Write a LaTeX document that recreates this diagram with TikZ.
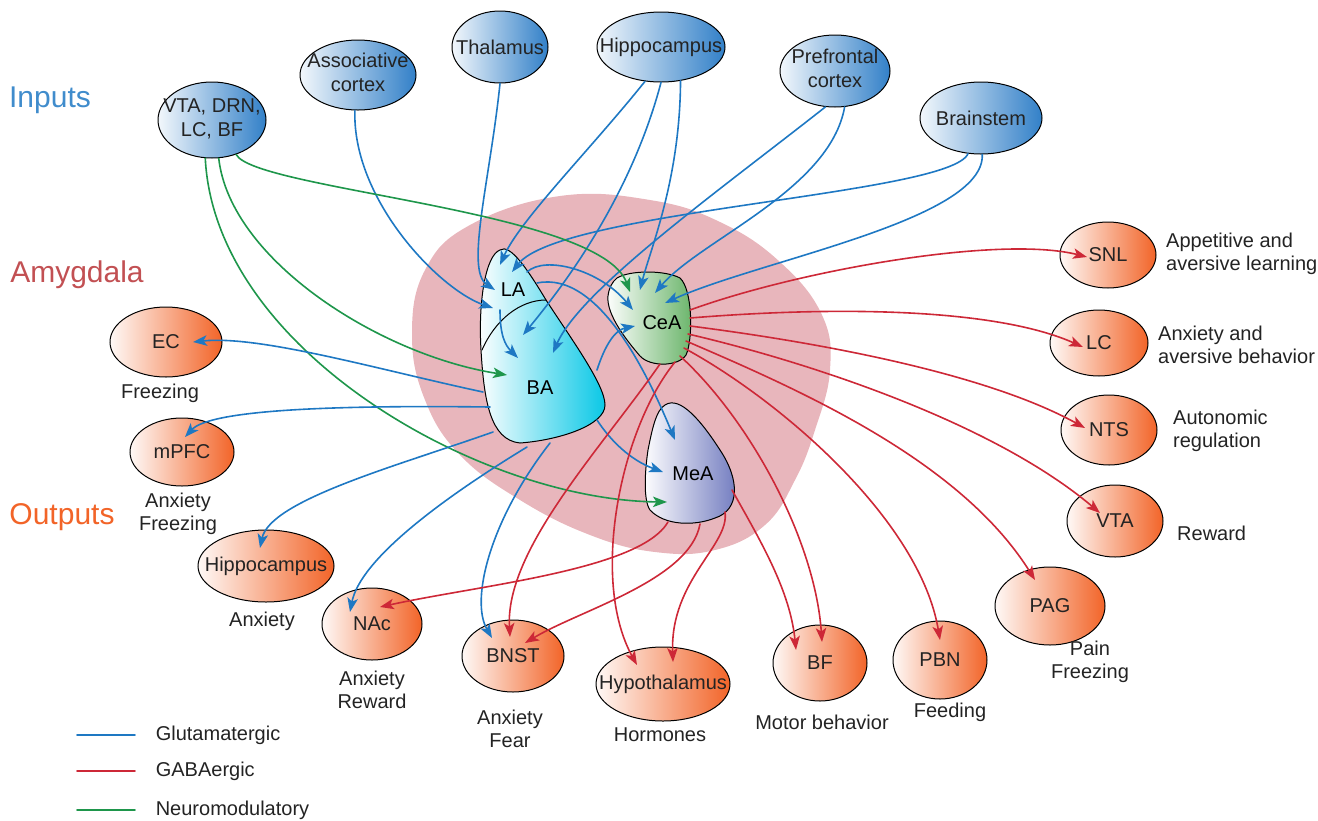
\documentclass[tikz,border=0pt]{standalone}
\usepackage{fontspec}
\setmainfont{Liberation Sans}
\usepackage{tikz}
\usetikzlibrary{arrows.meta, calc, shapes.geometric}

\definecolor{GluBlue}{RGB}{30,120,195}
\definecolor{GabaRed}{RGB}{205,40,55}
\definecolor{NeuroGreen}{RGB}{30,150,75}
\definecolor{InBlue}{RGB}{50,128,200}
\definecolor{OutOrange}{RGB}{242,100,40}
\definecolor{AmyPink}{RGB}{232,182,188}
\definecolor{BaCyan}{RGB}{10,200,230}
\definecolor{CeaGreen}{RGB}{105,180,105}
\definecolor{MeaBlue}{RGB}{110,120,190}
\definecolor{TxtGray}{RGB}{35,35,35}

\newcommand{\zw}[1]{\makebox[0pt]{#1}}
\newcommand{\two}[2]{\makebox[0pt]{\begin{tabular}{@{}c@{}}#1\\#2\end{tabular}}}

\tikzset{
  inbox/.style={ellipse, draw=black, line width=1pt, inner sep=0pt, left color=InBlue!6, right color=InBlue, text=TxtGray},
  outbox/.style={ellipse, draw=black, line width=1pt, inner sep=0pt, left color=OutOrange!4, right color=OutOrange, text=TxtGray},
  note/.style={align=center, text=TxtGray, inner sep=0pt},
  tip/.style={-{Stealth[length=14pt, width=10.5pt, inset=3.5pt]}},
  glu/.style={GluBlue, line width=1.6pt, tip},
  gaba/.style={GabaRed, line width=1.6pt, tip},
  neuro/.style={NeuroGreen, line width=1.6pt, tip},
  region/.style={draw=black, line width=1pt}
}

\begin{document}
\begin{tikzpicture}[x=1pt, y=-1pt, line cap=round, font=\fontsize{20}{23.5}\selectfont]

  \useasboundingbox (0,0) rectangle (1318,820);

  % amygdala area
  \fill[AmyPink] plot[smooth cycle, tension=0.7] coordinates {(560,196) (650,200) (720,222) (780,262) (822,315) (830,370) (815,430) (795,480) (765,525) (715,550) (655,552) (590,535) (520,500) (460,455) (425,400) (412,335) (425,270) (470,225)};

  % BA and LA
  \filldraw[region, left color=white, right color=BaCyan] (500,250) .. controls (486,255) and (478,300) .. (481,350) .. controls (484,400) and (490,440) .. (520,443) .. controls (560,440) and (605,425) .. (605,405) .. controls (605,385) and (572,340) .. (546,300) .. controls (528,270) and (510,243) .. (500,250) -- cycle;
  \draw[region] (482,350) .. controls (495,320) and (520,300) .. (546,300);
  % CeA
  \filldraw[region, left color=white, right color=CeaGreen] (617,278) .. controls (630,270) and (665,270) .. (680,278) .. controls (693,290) and (693,340) .. (686,355) .. controls (678,367) and (650,367) .. (640,356) .. controls (628,342) and (606,315) .. (608,296) .. controls (609,288) and (612,282) .. (617,278) -- cycle;
  % MeA
  \filldraw[region, left color=white, right color=MeaBlue] (665,405) .. controls (680,395) and (702,422) .. (720,450) .. controls (740,480) and (740,510) .. (715,518) .. controls (695,526) and (665,526) .. (650,510) .. controls (643,500) and (645,470) .. (648,450) .. controls (652,430) and (656,410) .. (665,405) -- cycle;

  \node (la) at (513,290) {LA};
  \node (ba) at (540,388) {BA};
  \node (cea) at (662,323) {CeA};
  \node (mea) at (693,474) {MeA};

  % entry points inside the amygdala nuclei
  \coordinate (la1) at (495,290);
  \coordinate (la2) at (493,308);
  \coordinate (la3) at (500,265);
  \coordinate (la4) at (512,272);
  \coordinate (ba1) at (523,335);
  \coordinate (ba2) at (553,353);
  \coordinate (ba3) at (518,358);
  \coordinate (ba4) at (507,375);
  \coordinate (ce1) at (630,292);
  \coordinate (ce2) at (640,290);
  \coordinate (ce3) at (655,293);
  \coordinate (ce4) at (665,303);
  \coordinate (ce5) at (633,310);
  \coordinate (ce6) at (635,326);
  \coordinate (me1) at (675,440);
  \coordinate (me2) at (663,472);
  \coordinate (me3) at (667,502);

  % headings
  \node[text=GluBlue!85!white, font=\fontsize{30}{34}\selectfont] (hin) at (50,100) {Inputs};
  \node[text=red!45!AmyPink!80!black, font=\fontsize{30}{34}\selectfont] (hamy) at (77,275) {Amygdala};
  \node[text=OutOrange, font=\fontsize{30}{34}\selectfont] (hout) at (62,517) {Outputs};

  % inputs
  \node[inbox, minimum width=108pt, minimum height=76pt] (vtadrn) at (212,120) {\two{VTA, DRN,}{LC, BF}};
  \node[inbox, minimum width=116pt, minimum height=70pt] (asso) at (358,75) {\two{Associative}{cortex}};
  \node[inbox, minimum width=96pt, minimum height=72pt] (thal) at (500,47) {\zw{Thalamus}};
  \node[inbox, minimum width=128pt, minimum height=70pt] (hippin) at (661,47) {\zw{Hippocampus}};
  \node[inbox, minimum width=110pt, minimum height=72pt] (pfc) at (835,71) {\two{Prefrontal}{cortex}};
  \node[inbox, minimum width=122pt, minimum height=72pt] (brain) at (981,118) {\zw{Brainstem}};

  % outputs
  \node[outbox, minimum width=112pt, minimum height=70pt] (ec) at (166,342) {\zw{EC}};
  \node[outbox, minimum width=104pt, minimum height=68pt] (mpfc) at (182,452) {\zw{mPFC}};
  \node[outbox, minimum width=136pt, minimum height=72pt] (hippout) at (266,566) {\zw{Hippocampus}};
  \node[outbox, minimum width=100pt, minimum height=72pt] (nac) at (372,624) {\zw{NAc}};
  \node[outbox, minimum width=102pt, minimum height=72pt] (bnst) at (513,656) {\zw{BNST}};
  \node[outbox, minimum width=134pt, minimum height=74pt] (hypo) at (663,684) {\zw{Hypothalamus}};
  \node[outbox, minimum width=94pt, minimum height=76pt] (bf) at (820,663) {\zw{BF}};
  \node[outbox, minimum width=94pt, minimum height=78pt] (pbn) at (940,660) {\zw{PBN}};
  \node[outbox, minimum width=110pt, minimum height=78pt] (pag) at (1050,606) {\zw{PAG}};
  \node[outbox, minimum width=96pt, minimum height=72pt] (vta) at (1115,521) {\zw{VTA}};
  \node[outbox, minimum width=96pt, minimum height=70pt] (nts) at (1109,430) {\zw{NTS}};
  \node[outbox, minimum width=98pt, minimum height=66pt] (lc) at (1099,343) {\zw{LC}};
  \node[outbox, minimum width=96pt, minimum height=66pt] (snl) at (1108,255) {\zw{SNL}};

  % what the outputs do
  \node[note] (ecnote) at (160,393) {Freezing};
  \node[note] (mpfcnote) at (178,514) {Anxiety\\Freezing};
  \node[note] (hippnote) at (262,621) {Anxiety};
  \node[note] (nacnote) at (372,690) {Anxiety\\Reward};
  \node[note] (bnstnote) at (510,729) {Anxiety\\Fear};
  \node[note] (hyponote) at (660,735) {Hormones};
  \node[note] (bfnote) at (822,722) {Motor behavior};
  \node[note] (pbnnote) at (950,712) {Feeding};
  \node[note] (pagnote) at (1090,662) {Pain\\Freezing};
  \node[note, anchor=west] (vtanote) at (1177,533) {Reward};
  \node[note, align=left, anchor=west] (ntsnote) at (1173,431) {Autonomic\\regulation};
  \node[note, align=left, anchor=west] (lcnote) at (1158,345) {Anxiety and\\aversive behavior};
  \node[note, align=left, anchor=west] (snlnote) at (1166,254) {Appetitive and\\aversive learning};

  % glutamatergic inputs
  \draw[glu] (thal.south) .. controls (490,180) and (465,270) .. (la1);
  \draw[glu] (asso.-95) .. controls (352,200) and (440,290) .. (la2);
  \draw[glu] (hippin.-115) .. controls (590,150) and (520,220) .. (la3);
  \draw[glu] (hippin.-90) .. controls (630,200) and (560,290) .. (ba1);
  \draw[glu] (hippin.-60) .. controls (680,180) and (650,250) .. (ce2);
  \draw[glu] (pfc.-105) .. controls (720,190) and (580,290) .. (ba2);
  \draw[glu] (pfc.-75) .. controls (830,190) and (700,240) .. (ce3);
  \draw[glu] (brain.-110) .. controls (950,195) and (560,210) .. (la4);
  \draw[glu] (brain.-88) .. controls (985,220) and (760,260) .. (ce4);

  % neuromodulatory inputs
  \draw[neuro] (vtadrn.-55) .. controls (255,190) and (600,210) .. (ce1);
  \draw[neuro] (vtadrn.-80) .. controls (230,260) and (380,355) .. (ba4);
  \draw[neuro] (vtadrn.-100) .. controls (215,350) and (480,500) .. (me3);

  % inside the amygdala
  \draw[glu] (527,272) .. controls (545,255) and (600,270) .. (ce5);
  \draw[glu] (537,283) .. controls (600,270) and (650,380) .. (me1);
  \draw[glu] (500,310) .. controls (500,335) and (505,345) .. (ba3);
  \draw[glu] (597,370) .. controls (605,345) and (615,330) .. (ce6);
  \draw[glu] (597,420) .. controls (610,440) and (630,460) .. (me2);

  % glutamatergic outputs
  \draw[glu] (483,392) .. controls (380,370) and (260,335) .. ($(ec)+(27,0)$);
  \draw[glu] (490,407) .. controls (330,405) and (210,410) .. ($(mpfc)+(3,-15)$);
  \draw[glu] (493,432) .. controls (400,465) and (270,500) .. ($(hippout)+(-6,-18)$);
  \draw[glu] (527,447) .. controls (440,500) and (360,560) .. ($(nac)+(-22,-12)$);
  \draw[glu] (550,443) .. controls (490,520) and (470,600) .. ($(bnst)+(-21,-18)$);

  % GABAergic outputs of CeA
  \draw[gaba] (690,310) .. controls (800,270) and (1000,235) .. ($(snl)+(-21,2)$);
  \draw[gaba] (690,318) .. controls (850,305) and (1000,310) .. ($(lc)+(-16,4)$);
  \draw[gaba] (690,326) .. controls (800,340) and (980,370) .. ($(nts)+(-24,-2)$);
  \draw[gaba] (688,334) .. controls (800,360) and (990,420) .. ($(vta)+(-15,-8)$);
  \draw[gaba] (686,341) .. controls (800,390) and (960,460) .. ($(pag)+(-15,-26)$);
  \draw[gaba] (684,348) .. controls (780,400) and (920,520) .. ($(pbn)+(0,-20)$);
  \draw[gaba] (680,356) .. controls (750,420) and (815,540) .. ($(bf)+(2,-21)$);
  \draw[gaba] (660,364) .. controls (600,450) and (505,550) .. ($(bnst)+(-3,-19)$);
  \draw[gaba] (675,362) .. controls (620,430) and (590,580) .. ($(hypo)+(-26,-19)$);

  % GABAergic outputs of MeA
  \draw[gaba] (668,522) .. controls (640,570) and (480,585) .. ($(nac)+(8,-17)$);
  \draw[gaba] (700,524) .. controls (690,580) and (580,610) .. ($(bnst)+(12,-13)$);
  \draw[gaba] (725,512) .. controls (730,545) and (670,580) .. ($(hypo)+(10,-22)$);
  \draw[gaba] (732,490) .. controls (760,540) and (790,590) .. ($(bf)+(-24,-13)$);

  % legend
  \coordinate (k1) at (77,735);
  \coordinate (k2) at (77,771);
  \coordinate (k3) at (77,810);
  \draw[GluBlue, line width=1.6pt] (k1) -- +(58,0) node[note, anchor=west, xshift=20pt] (kglu) {Glutamatergic};
  \draw[GabaRed, line width=1.6pt] (k2) -- +(58,0) node[note, anchor=west, xshift=20pt] (kgaba) {GABAergic};
  \draw[NeuroGreen, line width=1.6pt] (k3) -- +(58,0) node[note, anchor=west, xshift=20pt] (kneuro) {Neuromodulatory};

\end{tikzpicture}
\end{document}
